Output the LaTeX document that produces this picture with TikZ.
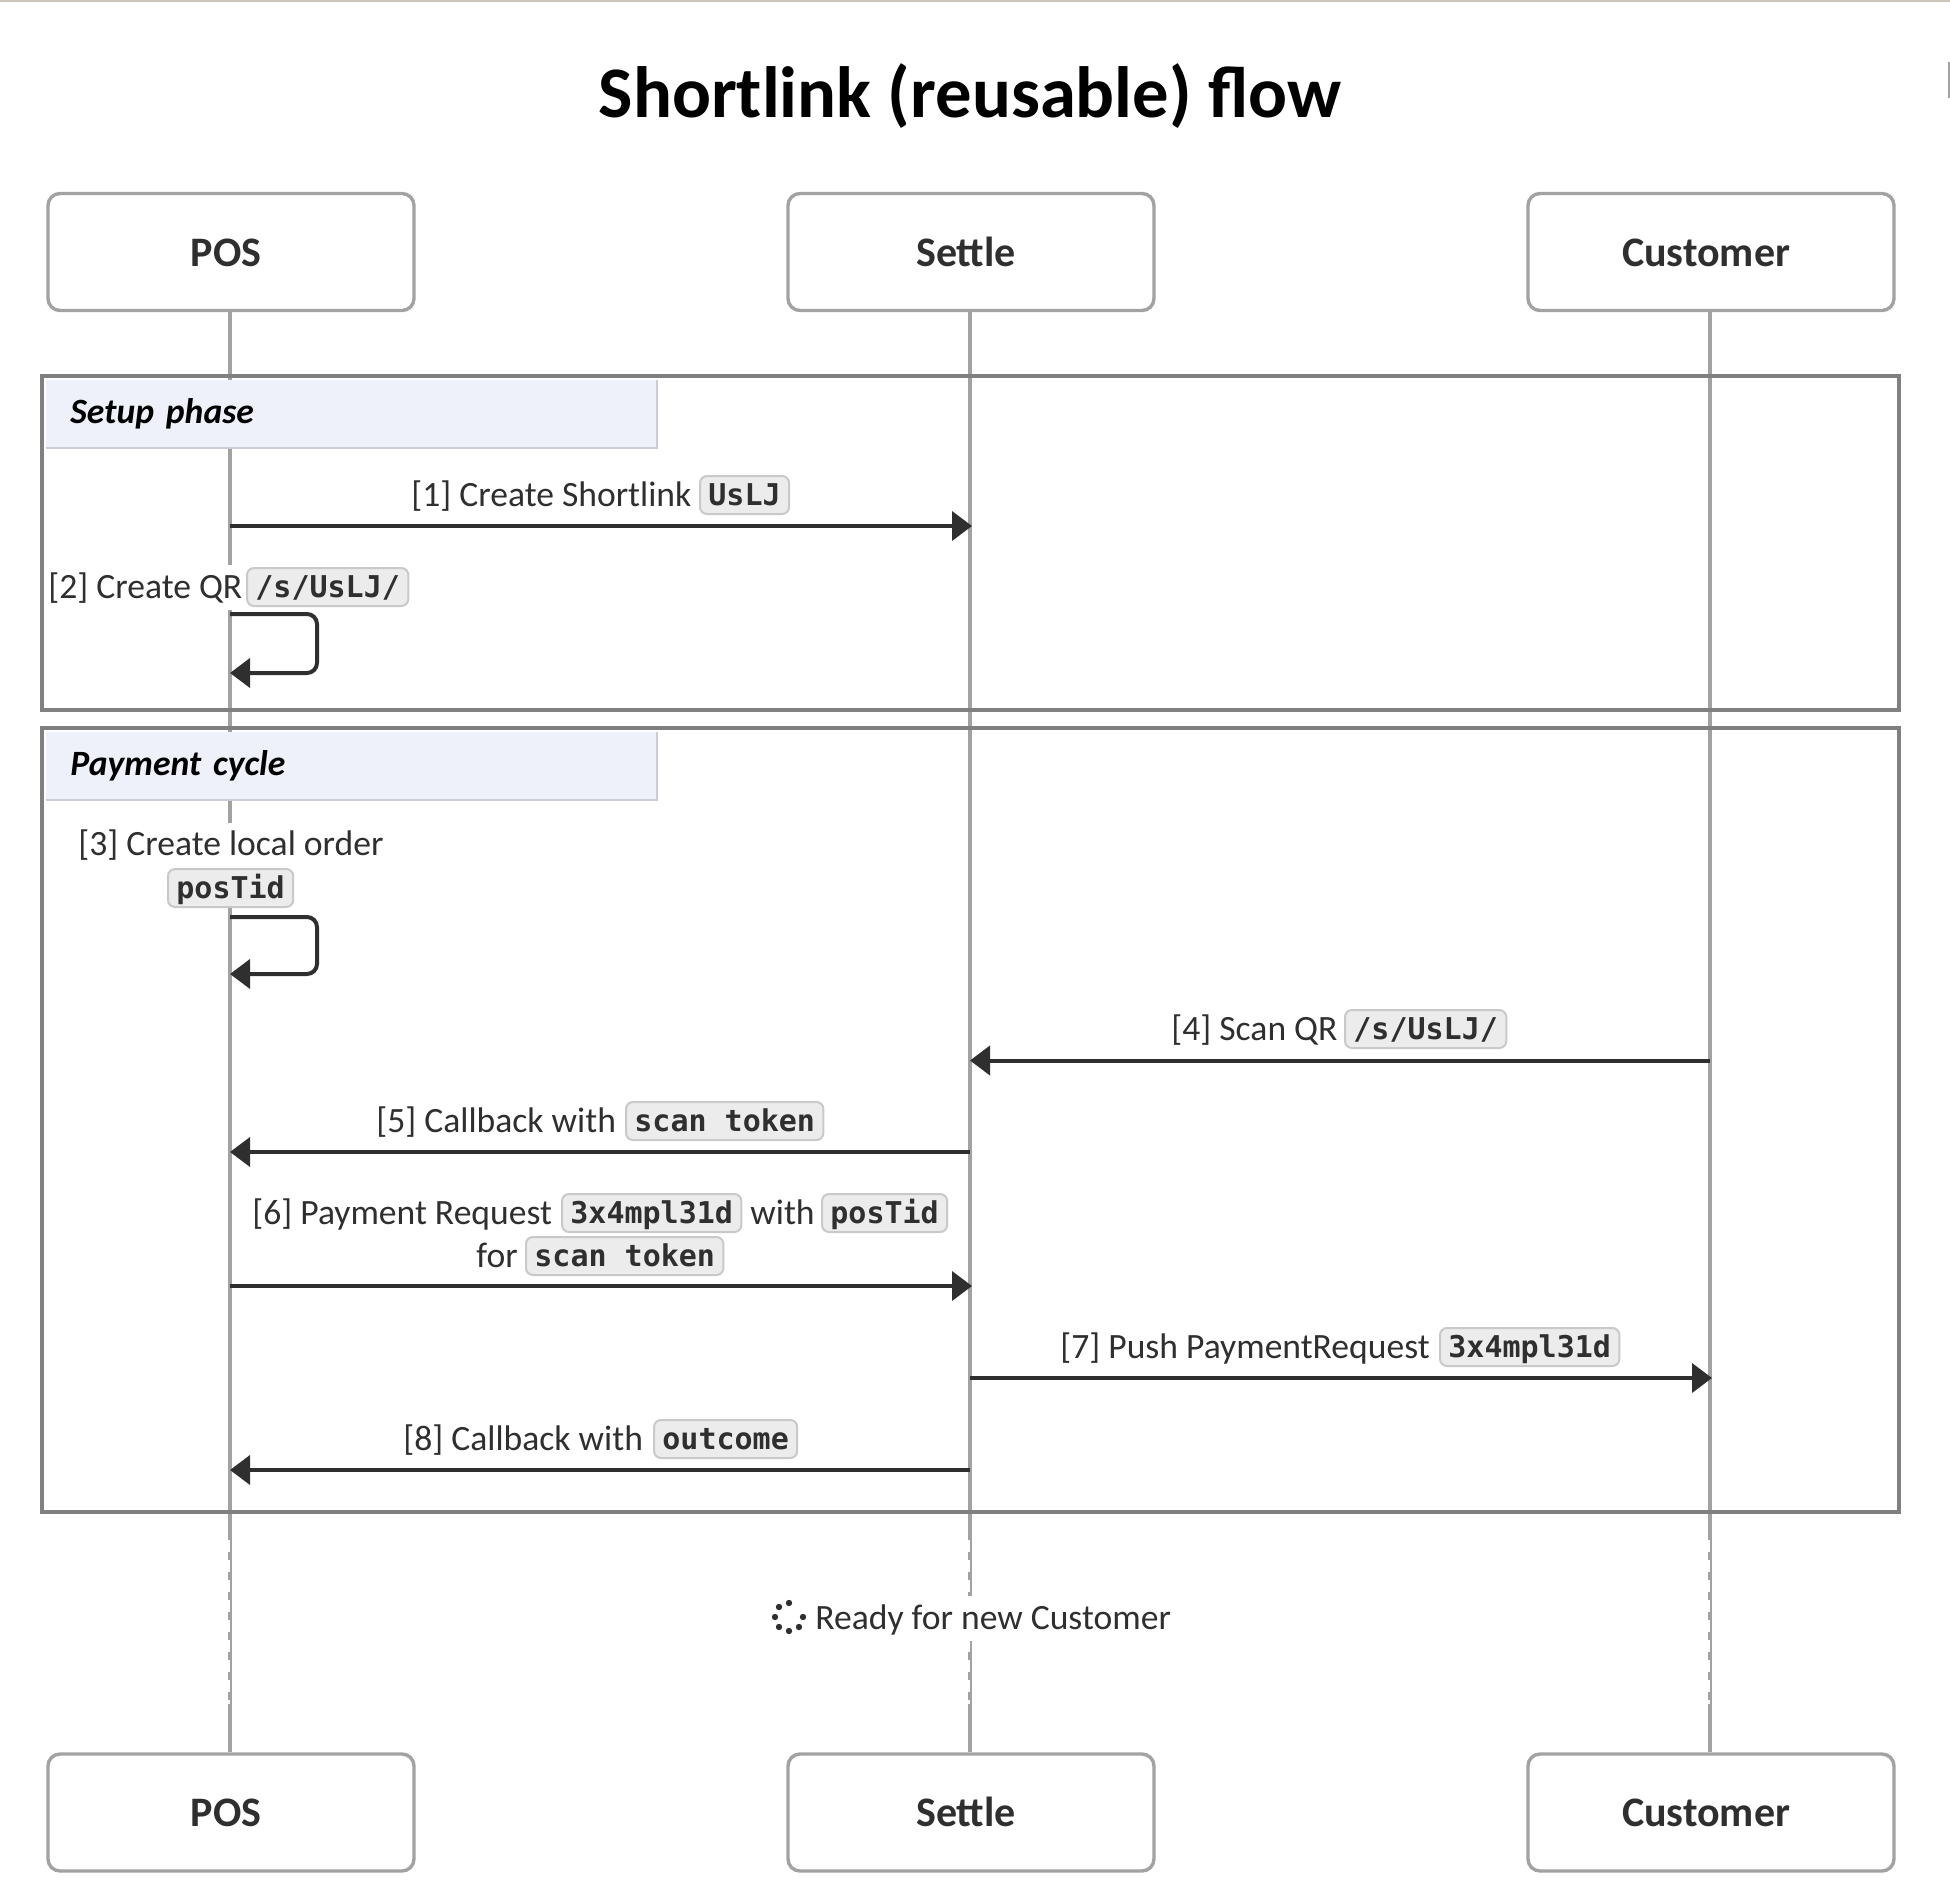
\documentclass[tikz,border=0pt]{standalone}
\usepackage{fontspec}
\setmainfont{Carlito}
\newfontfamily\codefont{DejaVu Sans Mono}
\usetikzlibrary{arrows.meta,positioning}
\definecolor{ink}{HTML}{2F2F2F}
\definecolor{lifegray}{HTML}{A2A2A2}
\definecolor{framegray}{HTML}{808080}
\definecolor{labelblue}{HTML}{EEF1F9}
\definecolor{labeledge}{HTML}{C9CDD6}
\definecolor{pillfill}{HTML}{ECECEC}
\definecolor{pilledge}{HTML}{C9C9C9}
\definecolor{topline}{HTML}{CFC6BD}

\begin{document}
\begin{tikzpicture}[x=0.5pt, y=-0.5pt,
      actor/.style={
        draw=lifegray, line width=1.7pt, rounded corners=6pt, fill=white,
        minimum height=58.5pt, minimum width=183pt, inner sep=0pt,
        align=center, text=ink, font=\fontsize{21}{24}\selectfont\bfseries,
        text height=14pt, text depth=0pt,
        execute at end node=\hspace*{5pt}
      },
      lifeline/.style={draw=lifegray, line width=1.9pt},
      framebox/.style={draw=framegray, line width=2pt},
      framelabel/.style={
        fill=labelblue, anchor=north west, minimum height=33.5pt, minimum width=305pt,
        inner sep=0pt, text width=281pt, align=left,
        font=\fontsize{17.8}{20}\selectfont\bfseries\itshape
      },
      labeledgeline/.style={draw=labeledge, line width=0.8pt},
      msg/.style={anchor=base west, inner sep=0pt, text=ink, font=\fontsize{17.8}{20}\selectfont},
      msgmask/.style={fill=white, text height=16.5pt, text depth=6pt},
      pill/.style={
        draw=pilledge, line width=1pt, fill=pillfill, rounded corners=3.5pt,
        anchor=base west, inner xsep=4.2pt, inner ysep=0pt, text=ink,
        text height=14.5pt, text depth=4.5pt,
        font=\fontsize{15}{18}\codefont\bfseries
      },
      arrow/.style={draw=ink, line width=2pt, -{Triangle[length=10pt,width=14.5pt]}},
      selfarrow/.style={arrow, rounded corners=5pt}
    ]
      \useasboundingbox (0,0) rectangle (1950,1900);
      \fill[topline] (0,0) rectangle (1950,2);
      \fill[lifegray] (1948,62) rectangle (1950,98);

      \node[font=\fontsize{36.3}{44}\selectfont\bfseries, text=black] (title) at (970,96) {Shortlink (reusable) flow};

      \node[actor] (posTop) at (231,252) {POS};
      \node[actor] (settleTop) at (971,252) {Settle};
      \node[actor] (customerTop) at (1711,252) {Customer};
      \node[actor] (posBot) at (231,1812.5) {POS};
      \node[actor] (settleBot) at (971,1812.5) {Settle};
      \node[actor] (customerBot) at (1711,1812.5) {Customer};

      \draw[lifeline] ([xshift=-0.5pt]posTop.south) -- ([xshift=-0.5pt]posBot.north);
      \draw[lifeline] ([xshift=-0.5pt]settleTop.south) -- ([xshift=-0.5pt]settleBot.north);
      \draw[lifeline] ([xshift=-0.5pt]customerTop.south) -- ([xshift=-0.5pt]customerBot.north);
      \foreach \lx in {230,970,1710} {
        \draw[white, line width=1pt, dash pattern=on 6pt off 4pt] (\lx-1,1540) -- (\lx-1,1704);
      }

      \draw[framebox] (42,376) rectangle (1899,710);
      \draw[framebox] (42,728) rectangle (1899,1512);

      \node[framelabel] (setup) at (46,380) {Setup phase};
      \draw[labeledgeline] (setup.north east) -- (setup.south east) -- (setup.south west);
      \node[framelabel] (cycle) at (46,732) {Payment cycle};
      \draw[labeledgeline] (cycle.north east) -- (cycle.south east) -- (cycle.south west);

      % messages
      \coordinate (p1) at (230,526); \coordinate (s1) at (972,526);
      \coordinate (p4) at (970,1060.5); \coordinate (c4) at (1710,1060.5);
      \coordinate (p5) at (970,1152); \coordinate (q5) at (230,1152);
      \coordinate (p6) at (230,1286); \coordinate (s6) at (972,1286);
      \coordinate (p7) at (970,1378); \coordinate (c7) at (1712,1378);
      \coordinate (p8) at (970,1470); \coordinate (q8) at (230,1470);
      \coordinate (a2) at (230,614); \coordinate (b2) at (230,673);
      \coordinate (a3) at (230,917); \coordinate (b3) at (230,974);

      \node[msg] (m1) at (411,506) {[1] Create Shortlink};
      \node[pill] (c1) at (699,505) {UsLJ};
      \draw[arrow] (p1) -- (s1);

      \node[msg, msgmask] (m2) at (48,598) {[2] Create QR};
      \node[pill] (c2) at (246,597) {/s/UsLJ/};
      \draw[selfarrow] (a2) -- (317,614) -- (317,673) -- (b2);

      \node[msg, msgmask] (m3) at (78,855.5) {[3] Create local order};
      \node[pill] (c3) at (167,898) {posTid};
      \draw[selfarrow] (a3) -- (317,917) -- (317,974) -- (b3);

      \node[msg] (m4) at (1171,1040) {[4] Scan QR};
      \node[pill] (c4t) at (1344,1039) {/s/UsLJ/};
      \draw[arrow] (c4) -- (p4);

      \node[msg] (m5) at (376,1132) {[5] Callback with};
      \node[pill] (c5) at (625,1131) {scan token};
      \draw[arrow] (p5) -- (q5);

      \node[msg] (m6) at (252,1224) {[6] Payment Request};
      \node[pill] (c6) at (561,1223) {3x4mpl31d};
      \node[msg] (m6w) at (750,1224) {with};
      \node[pill] (c6w) at (821,1223) {posTid};
      \node[msg] (m6f) at (476,1267) {for};
      \node[pill] (c6f) at (525,1266) {scan token};
      \draw[arrow] (p6) -- (s6);

      \node[msg] (m7) at (1060,1358) {[7] Push PaymentRequest};
      \node[pill] (c7t) at (1439,1357) {3x4mpl31d};
      \draw[arrow] (p7) -- (c7);

      \node[msg] (m8) at (403,1450) {[8] Callback with};
      \node[pill] (c8) at (653,1449) {outcome};
      \draw[arrow] (p8) -- (q8);

      \node[msg, msgmask] (ready) at (815,1629) {Ready for new Customer};
      \foreach \dotx/\doty in {789/1603,779/1607,775/1617,779/1627,789/1631,799/1627,803/1617} {
        \fill[ink] (\dotx,\doty) circle (1.6pt);
      }
    \end{tikzpicture}
\end{document}
